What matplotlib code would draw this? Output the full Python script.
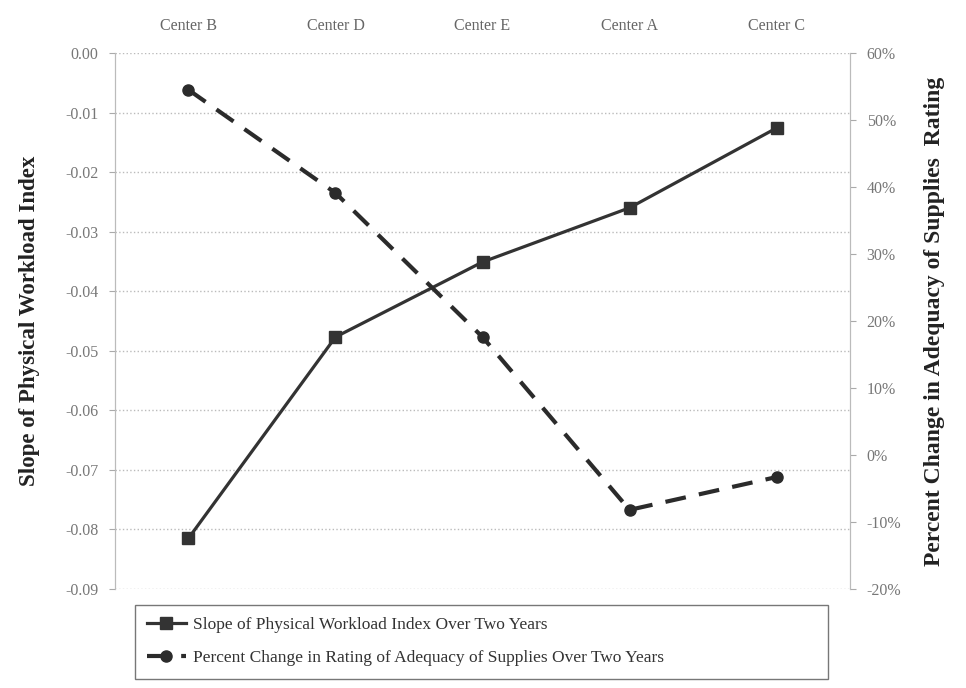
import matplotlib.pyplot as plt
from matplotlib.ticker import FuncFormatter

# data
centers = ["Center B", "Center D", "Center E", "Center A", "Center C"]
slope_workload = [-0.0815, -0.0477, -0.0351, -0.0260, -0.0126]
pct_supplies = [54.5, 39.1, 17.6, -8.2, -3.3]

left_ticks = [0.00, -0.01, -0.02, -0.03, -0.04, -0.05, -0.06, -0.07, -0.08, -0.09]
right_ticks = [60, 50, 40, 30, 20, 10, 0, -10, -20]

plt.rcParams['font.family'] = ['Liberation Serif', 'DejaVu Serif']

fig = plt.figure(figsize=(9.66, 6.88), dpi=100)
ax = fig.add_axes([0.119, 0.144, 0.761, 0.779])
ax2 = ax.twinx()

x = list(range(len(centers)))

l1, = ax.plot(x, slope_workload, color="#333333", lw=2.3, marker="s", ms=8,
              label="Slope of Physical Workload Index Over Two Years")
l2, = ax2.plot(x, pct_supplies, color="#2b2b2b", lw=3, ls=(0, (5, 3.2)), marker="o", ms=8,
               label="Percent Change in Rating of Adequacy of Supplies Over Two Years")

ax.set_xlim(-0.5, 4.5)
ax.set_ylim(-0.09, 0.0)
ax2.set_ylim(-20, 60)

ax.set_yticks(left_ticks)
ax.yaxis.set_major_formatter(FuncFormatter(lambda v, p: "%.2f" % v if v != 0 else "0.00"))
ax2.set_yticks(right_ticks)
ax2.yaxis.set_major_formatter(FuncFormatter(lambda v, p: "%d%%" % v))

ax.set_xticks(x)
ax.set_xticklabels(centers)
ax.xaxis.tick_top()
ax.tick_params(axis="x", length=0, pad=14, labelsize=11.5, colors="#666666")
ax.tick_params(axis="y", length=4, color="#aaaaaa", labelsize=11.5, labelcolor="#777777", pad=8)
ax2.tick_params(axis="y", length=4, color="#aaaaaa", labelsize=11.5, labelcolor="#777777", pad=8)

ax.grid(axis="y", color="#bbbbbb", ls=":", lw=1)
for a in (ax, ax2):
    for s in ("top", "bottom"):
        a.spines[s].set_visible(False)
    a.spines["left"].set_color("#bbbbbb")
    a.spines["right"].set_color("#bbbbbb")

ax.set_ylabel("Slope of Physical Workload Index", fontsize=16.5, fontweight="bold",
              color="#222222", labelpad=18)
ax2.set_ylabel("Percent Change in Adequacy of Supplies  Rating", fontsize=17,
               fontweight="bold", color="#222222", labelpad=16)

leg = fig.legend(handles=[l1, l2], loc="lower left", bbox_to_anchor=(0.131, 0.001, 0.735, 0.117),
                 mode="expand", fontsize=12.5, frameon=True, fancybox=False,
                 handlelength=2.2, handletextpad=0.4, borderpad=0.7, labelspacing=1.0)
leg.get_frame().set_edgecolor("#555555")
leg.get_frame().set_linewidth(1)
for t in leg.get_texts():
    t.set_color("#333333")

fig.savefig("out.png", dpi=100)
